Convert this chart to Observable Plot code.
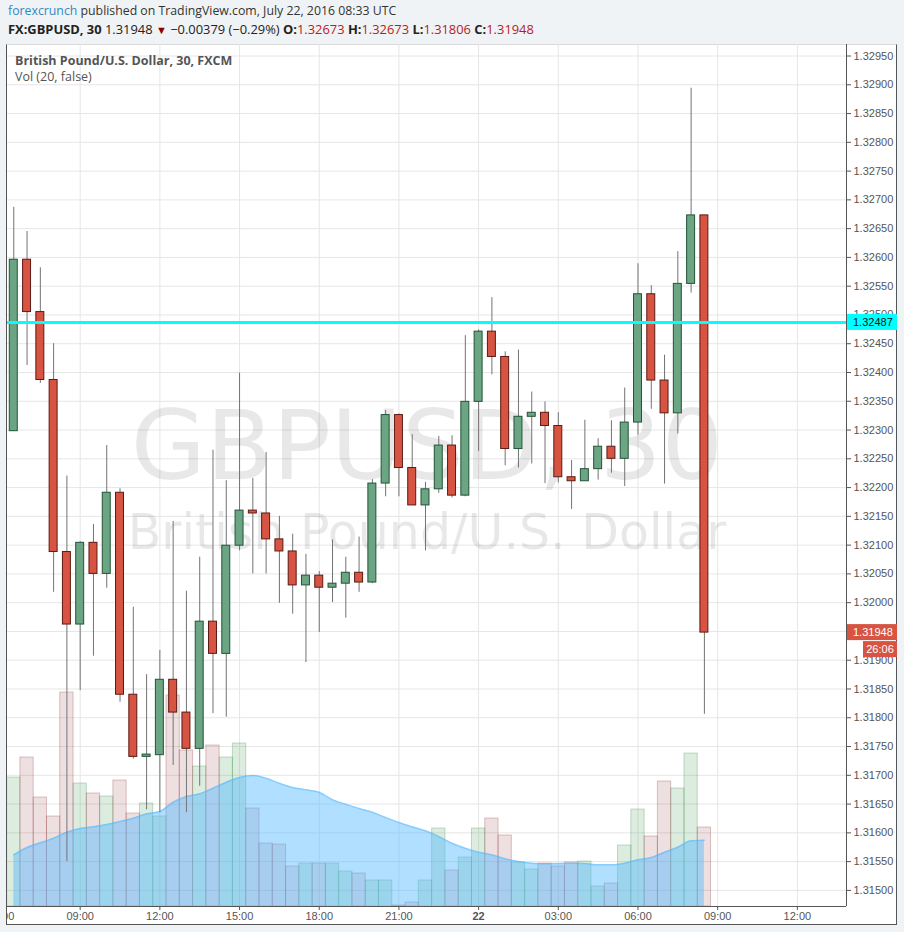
<!DOCTYPE html>
<html>
<head>
<meta charset="utf-8">
<script src="https://cdn.jsdelivr.net/npm/d3@7"></script>
<script src="https://cdn.jsdelivr.net/npm/@observablehq/plot@0.6"></script>
<style>
  html, body { margin: 0; padding: 0; background: #f0f3f6; }
  body { width: 904px; height: 932px; position: relative; overflow: hidden; font-family: "Open Sans", sans-serif; }
  #hdr1 { position: absolute; left: 8px; top: 2px; font-size: 12.3px; color: #333; white-space: nowrap; }
  #hdr1 .brand { color: #2f8ac4; }
  #hdr2 { position: absolute; left: 8px; top: 20px; font-size: 12.9px; color: #222; white-space: nowrap; }
  #hdr2 .rv { color: #b71c1c; }
  #hdr2 .tri { color: #8b0000; font-size: 11px; }
  #frame { position: absolute; left: 6px; top: 44px; width: 891px; height: 881px; box-sizing: border-box;
           background: #fff; border-left: 1px solid #555; border-right: 1px solid #555; border-bottom: 1px solid #555; border-top: 1px solid #d9d9d9; }
  #clip { position: absolute; left: 7px; top: 44px; width: 890px; height: 888px; overflow: hidden; }
  #clip svg { position: absolute; left: -7px; top: 0; max-width: none !important; width: 904px !important; height: 888px !important; }
  #legend { position: absolute; left: 15px; top: 53px; color: #555; font-size: 12.5px; line-height: 16px; white-space: nowrap; }
  #legend .l1 { font-weight: bold; }
</style>
</head>
<body>
<div id="hdr1"><span class="brand">forexcrunch</span> published on TradingView.com, July 22, 2016 08:33 UTC</div>
<div id="hdr2"></div>
<div id="frame"></div>
<div id="clip"></div>
<div id="legend"><div class="l1">British Pound/U.S. Dollar, 30, FXCM</div><div>Vol (20, false)</div></div>
<script>
// ---------- data (30-minute candles, FX:GBPUSD, from 2016-07-21 06:30 UTC) ----------
const open = [1.32298,1.32596,1.32505,1.32387,1.32088,1.31962,1.32104,1.32050,1.32191,1.31840,
  1.31732,1.31735,1.31866,1.31809,1.31746,1.31967,1.31911,1.32099,1.32160,1.32155,
  1.32110,1.32089,1.32030,1.32047,1.32026,1.32033,1.32052,1.32035,1.32207,1.32326,
  1.32234,1.32169,1.32197,1.32273,1.32186,1.32349,1.32471,1.32427,1.32267,1.32323,
  1.32330,1.32307,1.32218,1.32211,1.32232,1.32271,1.32250,1.32313,1.32536,1.32386,
  1.32329,1.32554,1.32673];
const high = [1.32687,1.32645,1.32582,1.32450,1.32220,1.32106,1.32136,1.32273,1.32198,1.31992,
  1.31875,1.31917,1.32141,1.32020,1.32079,1.32265,1.32212,1.32399,1.32216,1.32261,
  1.32150,1.32119,1.32084,1.32054,1.32109,1.32079,1.32114,1.32214,1.32334,1.32328,
  1.32292,1.32209,1.32289,1.32290,1.32464,1.32474,1.32530,1.32436,1.32439,1.32366,
  1.32349,1.32330,1.32247,1.32317,1.32285,1.32316,1.32373,1.32589,1.32551,1.32430,
  1.32610,1.32894,1.32673];
const low = [1.32298,1.32412,1.32381,1.32018,1.31550,1.31847,1.31907,1.32025,1.31827,1.31728,
  1.31640,1.31635,1.31717,1.31635,1.31681,1.31807,1.31801,1.32090,1.32050,1.32050,
  1.31999,1.31980,1.31896,1.31948,1.32000,1.31973,1.32018,1.32033,1.32184,1.32184,
  1.32169,1.32090,1.32190,1.32182,1.32184,1.32263,1.32396,1.32238,1.32234,1.32241,
  1.32207,1.32208,1.32162,1.32211,1.32213,1.32225,1.32202,1.32291,1.32336,1.32206,
  1.32293,1.32538,1.31806];
const close = [1.32596,1.32505,1.32387,1.32088,1.31962,1.32104,1.32050,1.32191,1.31840,1.31732,
  1.31736,1.31866,1.31809,1.31746,1.31967,1.31911,1.32099,1.32160,1.32155,1.32110,
  1.32089,1.32030,1.32047,1.32026,1.32033,1.32052,1.32035,1.32207,1.32326,1.32234,
  1.32169,1.32197,1.32273,1.32186,1.32349,1.32471,1.32427,1.32267,1.32323,1.32330,
  1.32307,1.32218,1.32211,1.32232,1.32271,1.32250,1.32313,1.32536,1.32386,1.32329,
  1.32554,1.32673,1.31948];
const volume = [1290,1490,1090,900,2140,1230,1130,1100,1260,930,
  1030,900,2110,1560,1400,1610,1490,1630,980,630,
  620,400,430,430,430,350,330,260,260,10,
  40,260,780,360,490,780,880,710,440,370,
  430,400,440,450,200,230,610,970,700,1250,
  1180,1530,790];
const volumeMA = [517,590,637,683,743,780,797,820,850,883,
  927,950,1043,1100,1127,1183,1243,1290,1310,1283,
  1233,1190,1167,1143,1067,1023,980,943,890,840,
  797,757,700,633,583,543,517,477,450,433,
  427,430,433,430,417,417,433,467,490,543,
  593,657,663];
const priceTicks = [1.3150,1.3155,1.3160,1.3165,1.3170,1.3175,1.3180,1.3185,1.3190,1.3195,
  1.3200,1.3205,1.3210,1.3215,1.3220,1.3225,1.3230,1.3235,1.3240,1.3245,
  1.3250,1.3255,1.3260,1.3265,1.3270,1.3275,1.3280,1.3285,1.3290,1.3295];
const timeTicks = ["2016-07-21T06:00Z","2016-07-21T09:00Z","2016-07-21T12:00Z","2016-07-21T15:00Z","2016-07-21T18:00Z",
  "2016-07-21T21:00Z","2016-07-22T00:00Z","2016-07-22T03:00Z","2016-07-22T06:00Z","2016-07-22T09:00Z","2016-07-22T12:00Z"];
const timeLabels = ["06:00","09:00","12:00","15:00","18:00","21:00","22","03:00","06:00","09:00","12:00"];
const horizontalLine = 1.32487;
const lastPrice = 1.31948;
const countdown = "26:06";
const watermark = ["GBPUSD, 30", "British Pound/U.S. Dollar"];
const headerChange = "\u22120.00379 (\u22120.29%)";

// ---------- derived table ----------
const firstBar = Date.UTC(2016, 6, 21, 6, 30);
const barStep = 30 * 60 * 1000;
const candles = open.map((o, i) => ({
  t: new Date(firstBar + i * barStep),
  open: o, high: high[i], low: low[i], close: close[i],
  volume: volume[i], ma: volumeMA[i], up: close[i] >= o
}));
const tickDates = timeTicks.map(s => new Date(s));
const labelOf = new Map(tickDates.map((d, i) => [+d, timeLabels[i]]));
const bodyHalf = 9 * 60 * 1000;
const volHalf = 15 * 60 * 1000;
const xDomain = [new Date(Date.UTC(2016, 6, 21, 6, 15, 49)), new Date(Date.UTC(2016, 6, 22, 13, 51, 0))];
const yDomain = [1.31472, 1.32970];

// header line 2
const last = candles[candles.length - 1];
const f5 = d3.format(".5f");
document.getElementById("hdr2").innerHTML =
  `<b>FX:GBPUSD, 30</b> ${f5(last.close)} <span class="tri">\u25BC</span> ${headerChange} ` +
  `<b>O:</b><span class="rv">${f5(last.open)}</span> <b>H:</b><span class="rv">${f5(last.high)}</span> ` +
  `<b>L:</b><span class="rv">${f5(last.low)}</span> <b>C:</b><span class="rv">${f5(last.close)}</span>`;

const common = {
  width: 904, height: 888,
  marginLeft: 7, marginRight: 58, marginTop: 0, marginBottom: 26,
  style: { background: "transparent", overflow: "visible", fontFamily: "'Liberation Sans', Arial, sans-serif", fontSize: "11px", color: "#555" }
};

// layer 1: grid + watermark
const layer1 = Plot.plot({
  ...common,
  x: { type: "utc", domain: xDomain, axis: null },
  y: { domain: yDomain, axis: null },
  marks: [
    Plot.ruleY(priceTicks, { stroke: "#e6e6e6" }),
    Plot.ruleX(tickDates, { stroke: "#e6e6e6" }),
    Plot.text([watermark[0]], { text: d => d, frameAnchor: "top", lineAnchor: "bottom", dy: 434,
      fontSize: 97, fontFamily: "DejaVu Sans", fill: "#000", fillOpacity: 0.09 }),
    Plot.text([watermark[1]], { text: d => d, frameAnchor: "top", lineAnchor: "bottom", dy: 504,
      fontSize: 49, fontFamily: "DejaVu Sans", fill: "#000", fillOpacity: 0.09 })
  ]
});

// layer 2: volume + MA(20)
const layer2 = Plot.plot({
  ...common,
  x: { type: "utc", domain: xDomain, axis: null },
  y: { domain: [0, 8620], axis: null },
  marks: [
    Plot.rect(candles.filter(d => d.up), {
      x1: d => new Date(+d.t - volHalf), x2: d => new Date(+d.t + volHalf), y1: 0, y2: "volume",
      fill: "#3c9650", fillOpacity: 0.18, stroke: "#3c9650", strokeOpacity: 0.3 }),
    Plot.rect(candles.filter(d => !d.up), {
      x1: d => new Date(+d.t - volHalf), x2: d => new Date(+d.t + volHalf), y1: 0, y2: "volume",
      fill: "#963c41", fillOpacity: 0.16, stroke: "#963c41", strokeOpacity: 0.3 }),
    Plot.areaY(candles, { x: "t", y: "ma", fill: "#50b8ff", fillOpacity: 0.45, curve: "monotone-x" }),
    Plot.lineY(candles, { x: "t", y: "ma", stroke: "#50b8ff", strokeOpacity: 0.5, curve: "monotone-x" })
  ]
});

// layer 3: candles, marker line, axes
const layer3 = Plot.plot({
  ...common,
  x: { type: "utc", domain: xDomain, ticks: tickDates.slice(1), tickFormat: d => (labelOf.get(+d) === "22" ? "" : labelOf.get(+d)),
       tickSize: 4, tickPadding: 2, label: null },
  y: { domain: yDomain, axis: "right", ticks: priceTicks, tickFormat: f5, tickSize: 4, tickPadding: 3, label: null },
  marks: [
    Plot.ruleX(candles, { x: "t", y1: "low", y2: "high", stroke: "#737375" }),
    Plot.rect(candles.filter(d => d.up), {
      x1: d => new Date(+d.t - bodyHalf), x2: d => new Date(+d.t + bodyHalf), y1: "open", y2: "close",
      fill: "#6ba583", stroke: "#225437" }),
    Plot.rect(candles.filter(d => !d.up), {
      x1: d => new Date(+d.t - bodyHalf), x2: d => new Date(+d.t + bodyHalf), y1: "open", y2: "close",
      fill: "#d75442", stroke: "#5b1a13" }),
    Plot.ruleY([horizontalLine], { stroke: "#00ffff", strokeWidth: 3 }),
    Plot.ruleY([yDomain[0]], { stroke: "#555" }),
    Plot.ruleX([xDomain[1]], { stroke: "#555" }),
    Plot.text(tickDates.filter(d => labelOf.get(+d) === "22"), { x: d => d, text: d => labelOf.get(+d),
      frameAnchor: "bottom", lineAnchor: "top", dy: 6, fontWeight: "bold", fill: "#555" }),
    Plot.text(tickDates.slice(0, 1), { x: d => d, text: d => labelOf.get(+d),
      frameAnchor: "bottom", lineAnchor: "top", dy: 6, fill: "#555" })
  ]
});

// layer 4: price tags on the right axis (drawn above the axis labels)
function priceTags(index, scales, values, dimensions) {
  const g = d3.create("svg:g").attr("font-size", 11).attr("text-anchor", "start");
  const x0 = dimensions.width - dimensions.marginRight;
  const yc = scales.y(horizontalLine);
  g.append("rect").attr("x", x0 + 1).attr("y", yc - 8).attr("width", 50).attr("height", 16).attr("fill", "#00ffff");
  g.append("text").attr("x", x0 + 7).attr("y", yc + 4).attr("fill", "#111").text(f5(horizontalLine));
  const yl = scales.y(lastPrice);
  g.append("rect").attr("x", x0 + 1).attr("y", yl - 8).attr("width", 50).attr("height", 16).attr("fill", "#d75442");
  g.append("text").attr("x", x0 + 7).attr("y", yl + 4).attr("fill", "#fff").text(f5(lastPrice));
  g.append("rect").attr("x", x0 + 17).attr("y", yl + 9).attr("width", 34).attr("height", 16).attr("fill", "#d75442");
  g.append("text").attr("x", x0 + 34).attr("y", yl + 21).attr("fill", "#fff").attr("text-anchor", "middle").text(countdown);
  return g.node();
}
const layer4 = Plot.plot({
  ...common,
  x: { type: "utc", domain: xDomain, axis: null },
  y: { domain: yDomain, axis: null },
  marks: [priceTags]
});

const clip = document.getElementById("clip");
clip.append(layer1, layer2, layer3, layer4);
</script>
</body>
</html>
